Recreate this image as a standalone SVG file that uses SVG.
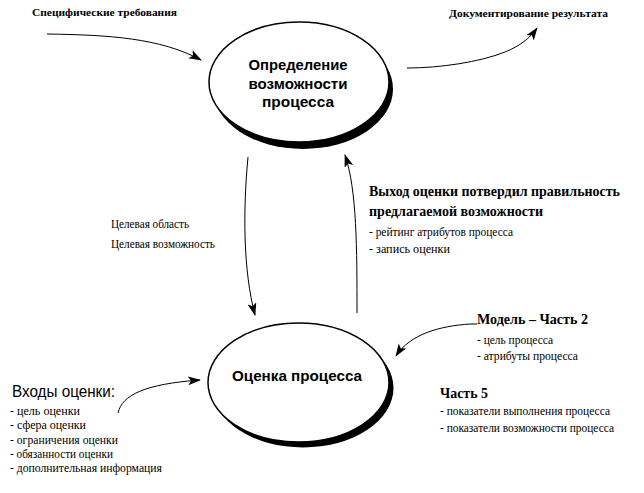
<svg xmlns="http://www.w3.org/2000/svg" width="644" height="493" viewBox="0 0 644 493">
<defs>
<marker id="ah" markerWidth="13" markerHeight="10" refX="12" refY="4.5" orient="auto" markerUnits="userSpaceOnUse">
<path d="M0,0 L13,4.5 L0,9 L3,4.5 z" fill="#000"/>
</marker>
<style>
.node-shadow{fill:#000}
.node-body{fill:#fff;stroke:#000;stroke-width:1.5}
.ntext{font-family:"Liberation Sans",Arial,sans-serif;font-size:15px;font-weight:bold;fill:#000;text-anchor:middle}
.conn{fill:none;stroke:#000;stroke-width:1;marker-end:url(#ah)}
.lbl{font-family:"Liberation Serif","DejaVu Serif","Times New Roman",serif;font-size:12px;fill:#000}
.lblb{font-family:"Liberation Serif","DejaVu Serif","Times New Roman",serif;font-size:11px;font-weight:bold;fill:#000}
.head{font-family:"Liberation Serif","DejaVu Serif","Times New Roman",serif;font-size:14px;font-weight:bold;fill:#000}
.sans{font-family:"Liberation Sans",Arial,sans-serif;font-size:16px;fill:#000}
</style>
</defs>
<rect width="644" height="493" fill="#fff"/>

<g id="node-opredelenie">
<ellipse class="node-shadow" cx="303" cy="89" rx="90" ry="60"/>
<ellipse class="node-body" cx="299" cy="82" rx="90" ry="60"/>
<text class="ntext" x="298" y="70" textLength="99" lengthAdjust="spacingAndGlyphs">Определение</text>
<text class="ntext" x="298" y="89" textLength="99" lengthAdjust="spacingAndGlyphs">возможности</text>
<text class="ntext" x="298" y="107" textLength="72" lengthAdjust="spacingAndGlyphs">процесса</text>
</g>

<g id="node-ocenka">
<ellipse class="node-shadow" cx="303" cy="388" rx="90.5" ry="59.5"/>
<ellipse class="node-body" cx="298.5" cy="382.5" rx="90.5" ry="59.5"/>
<text class="ntext" x="297" y="381" textLength="130" lengthAdjust="spacingAndGlyphs">Оценка процесса</text>
</g>

<g id="connectors">
<path class="conn" d="M47,34 C110,35 160,38 201,60"/>
<path class="conn" d="M407,68 C440,68 480,62 505,52 C520,46 530,38 537,28"/>
<path class="conn" d="M248,157 C243,210 243,270 255,315"/>
<path class="conn" d="M357,313 C357,250 357,190 345,155"/>
<path class="conn" d="M477,324 L470,324 C440,326 410,334 396,356"/>
<path class="conn" d="M118,413 C122,395 145,384 200,380"/>
</g>

<g id="labels">
<text class="lblb" font-family="Liberation Serif" x="32" y="16" textLength="145" lengthAdjust="spacingAndGlyphs">Специфические требования</text>
<text class="lblb" font-family="Liberation Serif" x="449" y="17" textLength="159" lengthAdjust="spacingAndGlyphs">Документирование результата</text>

<text class="lbl" x="111" y="228" textLength="78" lengthAdjust="spacingAndGlyphs">Целевая область</text>
<text class="lbl" x="111" y="248" textLength="104" lengthAdjust="spacingAndGlyphs">Целевая возможность</text>

<text class="head" x="369" y="196" textLength="251" lengthAdjust="spacingAndGlyphs">Выход оценки потвердил правильность</text>
<text class="head" x="369" y="216" textLength="174" lengthAdjust="spacingAndGlyphs">предлагаемой возможности</text>
<text class="lbl" x="369" y="236" textLength="144" lengthAdjust="spacingAndGlyphs">- рейтинг атрибутов процесса</text>
<text class="lbl" x="369" y="253" textLength="81" lengthAdjust="spacingAndGlyphs">- запись оценки</text>

<text class="head" x="477" y="324" textLength="111" lengthAdjust="spacingAndGlyphs">Модель – Часть 2</text>
<text class="lbl" x="477" y="344" textLength="76" lengthAdjust="spacingAndGlyphs">- цель процесса</text>
<text class="lbl" x="477" y="360" textLength="101" lengthAdjust="spacingAndGlyphs">- атрибуты процесса</text>

<text class="head" x="440" y="398" textLength="48" lengthAdjust="spacingAndGlyphs">Часть 5</text>
<text class="lbl" x="440" y="415" textLength="170" lengthAdjust="spacingAndGlyphs">- показатели выполнения процесса</text>
<text class="lbl" x="440" y="432" textLength="174" lengthAdjust="spacingAndGlyphs">- показатели возможности процесса</text>

<text class="sans" x="12" y="397" textLength="103" lengthAdjust="spacingAndGlyphs">Входы оценки:</text>
<text class="lbl" x="10" y="415" textLength="70" lengthAdjust="spacingAndGlyphs">- цель оценки</text>
<text class="lbl" x="10" y="429" textLength="76" lengthAdjust="spacingAndGlyphs">- сфера оценки</text>
<text class="lbl" x="10" y="444" textLength="108" lengthAdjust="spacingAndGlyphs">- ограничения оценки</text>
<text class="lbl" x="10" y="458" textLength="103" lengthAdjust="spacingAndGlyphs">- обязанности оценки</text>
<text class="lbl" x="10" y="472" textLength="152" lengthAdjust="spacingAndGlyphs">- дополнительная информация</text>
</g>
</svg>
